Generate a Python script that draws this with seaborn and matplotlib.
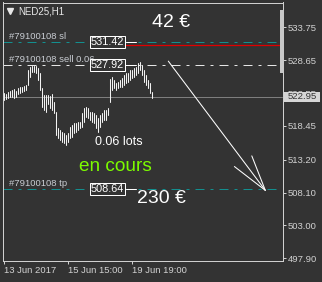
import numpy as np
import pandas as pd
import matplotlib
matplotlib.use("Agg")
import matplotlib.pyplot as plt
import seaborn as sns
from matplotlib import transforms
from matplotlib.patches import Rectangle

# ---------------- data ----------------
highs = [523.56, 523.40, 523.71, 523.87, 524.02, 524.18, 523.87, 524.33, 524.49, 524.49,
         524.64, 524.80, 527.13, 527.59, 527.75, 527.75, 527.75, 527.44, 526.66, 524.33,
         523.25, 523.25, 523.25, 523.09, 523.40, 522.16, 520.61, 518.12, 517.81, 517.50,
         517.35, 517.04, 517.35, 518.28, 518.59, 518.90, 518.90, 519.06, 519.06, 520.45,
         521.23, 521.38, 521.23, 520.61, 520.61, 520.45, 520.14, 519.68, 520.14, 520.45,
         520.92, 520.92, 521.23, 525.70, 526.04, 525.57, 525.11, 525.26, 525.57, 525.88,
         526.35, 526.66, 526.66, 527.13, 527.13, 527.44, 527.59, 528.21, 528.37, 527.90,
         527.13, 526.35, 525.57, 525.11, 523.71]
lows = [522.47, 522.63, 522.78, 522.94, 522.94, 522.78, 522.94, 523.40, 523.56, 523.71,
        523.87, 524.02, 524.80, 526.04, 526.82, 526.82, 526.66, 525.57, 524.02, 521.38,
        520.92, 520.61, 521.85, 521.23, 520.92, 520.45, 517.04, 516.57, 516.26, 515.95,
        515.80, 515.49, 515.95, 516.57, 516.73, 517.35, 517.50, 517.81, 518.12, 518.28,
        519.06, 519.83, 519.68, 519.37, 519.06, 518.90, 518.12, 517.50, 518.28, 519.06,
        519.37, 519.37, 520.14, 522.16, 524.02, 524.33, 524.02, 524.33, 524.49, 524.49,
        524.80, 525.11, 525.26, 525.57, 525.88, 526.04, 526.35, 526.66, 527.13, 526.35,
        525.26, 524.80, 524.33, 523.56, 522.78]

ytick_values = [533.75, 528.65, 523.55, 518.45, 513.20, 508.10, 503.00, 497.90]
xtick_bars = [0, 32, 64]
xtick_labels = ["13 Jun 2017", "15 Jun 15:00", "19 Jun 19:00"]

symbol = "NED25,H1"
order_id = "#79100108"
sl_price = 531.42
entry_price = 527.92
tp_price = 508.64
bid_price = 522.95
red_price = 531.00
lots_text = "0.06 lots"
status_text = "en cours"
profit_now = "42 €"
profit_target = "230 €"
arrow_start = (82.4, 528.50)   # (bar, price)
arrow_end = (130.9, 508.45)

# ---------------- style ----------------
BG = "#333333"
FG = "#D2D2D2"
TEAL = "#138F8F"
sns.set_theme(style="dark", rc={
    "axes.facecolor": BG, "figure.facecolor": BG, "savefig.facecolor": BG,
    "axes.edgecolor": "#D0D0D0", "axes.grid": False,
})
plt.rcParams["font.family"] = ["Liberation Sans", "DejaVu Sans"]

W, H = 322, 282
fig = plt.figure(figsize=(W / 100, H / 100), dpi=100)
ax = fig.add_axes([2.5 / W, 21.5 / H, 280 / W, 258 / H])

ax.set_xlim(-0.5, 139.5)
ax.set_ylim(497.56, 537.60)

blend = transforms.blended_transform_factory(ax.transAxes, ax.transData)

def px(x):  # horizontal pixel -> axes fraction
    return (x - 2.5) / 280.0

# bid line
ax.plot([px(3), px(282)], [bid_price, bid_price], transform=blend,
        color="#7E7E7E", lw=0.72, zorder=1)

# price bars (high-low) drawn with seaborn
bars = np.arange(len(highs))
df = pd.DataFrame({
    "bar": np.repeat(bars, 2),
    "price": np.column_stack([lows, highs]).ravel(),
})
sns.lineplot(data=df, x="bar", y="price", units="bar", estimator=None,
             color="#F2F2F2", linewidth=0.75, ax=ax, zorder=3)
ax.set_xlabel("")
ax.set_ylabel("")

# order lines
dash = (0, (9, 6, 3, 6))
for price, col in [(sl_price, TEAL), (entry_price, "#E6E6E6"), (tp_price, TEAL)]:
    ax.plot([px(3), px(277)], [price, price], transform=blend, color=col,
            lw=0.72, linestyle=dash, zorder=2)
ax.plot([px(125.7), px(280)], [red_price, red_price], transform=blend,
        color="#E00000", lw=0.9, zorder=2)

# order labels
lab_off = transforms.offset_copy(blend, fig=fig, x=0, y=2.2, units="points")
for price, suffix in [(sl_price, " sl"), (entry_price, " sell 0.06"), (tp_price, " tp")]:
    ax.text(px(9.3), price, order_id + suffix, transform=lab_off, fontsize=6.8,
            color="#C8CCD2", ha="left", va="baseline", zorder=4)

# price boxes
for price in [sl_price, entry_price, tp_price]:
    ax.text(px(107.4), price, f"{price:.2f}", transform=blend, fontsize=7.8,
            color="white", ha="center", va="center", zorder=6,
            bbox=dict(boxstyle="square,pad=0.08", fc=BG, ec="white", lw=0.72))
    ax.plot([px(125.7), px(136)], [price, price], transform=blend,
            color="white", lw=0.72, zorder=5)

# arrow
ax.plot([arrow_start[0], arrow_end[0]], [arrow_start[1], arrow_end[1]],
        color="white", lw=0.75, zorder=5)
p0 = ax.transData.transform(arrow_start)
p1 = ax.transData.transform(arrow_end)
d = (p0 - p1) / np.linalg.norm(p0 - p1)
for ang, ln in [(15.5, 39.0), (-15.5, 37.0)]:
    a = np.deg2rad(ang)
    rot = np.array([[np.cos(a), -np.sin(a)], [np.sin(a), np.cos(a)]])
    wing = p1 + rot @ d * ln
    wd = ax.transData.inverted().transform(wing)
    ax.plot([arrow_end[0], wd[0]], [arrow_end[1], wd[1]],
            color="white", lw=0.75, zorder=5)

# texts
def yf(y):  # vertical pixel (from top) -> axes fraction
    return 1 - (y - 2.5) / 258.0

ax.plot([px(9.85)], [yf(10.7)], marker="v", markersize=4.3, color="#E8E8E8",
        transform=ax.transAxes, clip_on=False)
ax.text(px(18.3), yf(14), symbol, transform=ax.transAxes, fontsize=7,
        color="#E8E8E8", ha="left", va="baseline")
ax.text(px(152), yf(26.7), profit_now, transform=ax.transAxes, fontsize=14,
        color="white", ha="left", va="baseline")
ax.text(px(137), yf(202.7), profit_target, transform=ax.transAxes, fontsize=14,
        color="white", ha="left", va="baseline", zorder=6)
ax.text(px(95), yf(145), lots_text, transform=ax.transAxes, fontsize=9,
        color="white", ha="left", va="baseline", zorder=6)
ax.text(px(79), yf(171), status_text, transform=ax.transAxes, fontsize=13.7,
        color="#7CFC00", ha="left", va="baseline", zorder=6)

# right-side scroll marker
ax.add_patch(Rectangle((px(280.3), yf(72.7)), 3.4 / 280, (72.7 - 10) / 258,
                       transform=ax.transAxes, fc="#C8C8C8", ec="none",
                       clip_on=False, zorder=7))

# bid price box
bh = 9.4 * (537.60 - 497.56) / 258
ax.add_patch(Rectangle((px(283.7), bid_price - bh / 2), 36.3 / 280, bh,
                       transform=blend, fc="#D6D6D6", ec="none",
                       clip_on=False, zorder=8))
ax.text(px(287.8), bid_price, f"{bid_price:.2f}", transform=blend, fontsize=6.8,
        color="#333333", ha="left", va="center", zorder=9, clip_on=False)

# axes / ticks
ax.set_yticks(ytick_values)
ax.set_yticklabels([f"{v:.2f}" for v in ytick_values])
ax.yaxis.tick_right()
ax.set_xticks(xtick_bars)
ax.set_xticklabels(xtick_labels)
for lbl in ax.get_xticklabels():
    lbl.set_horizontalalignment("left")
ax.tick_params(axis="both", direction="out", length=2.5, width=0.72,
               color="#D0D0D0", labelcolor=FG, labelsize=6.8)
ax.tick_params(axis="y", pad=1.2, left=False, right=True,
               labelleft=False, labelright=True)
ax.tick_params(axis="x", pad=1.5, bottom=True)
for s in ax.spines.values():
    s.set_visible(True)
    s.set_color("#D0D0D0")
    s.set_linewidth(0.72)

fig.savefig("out.png", dpi=100)
